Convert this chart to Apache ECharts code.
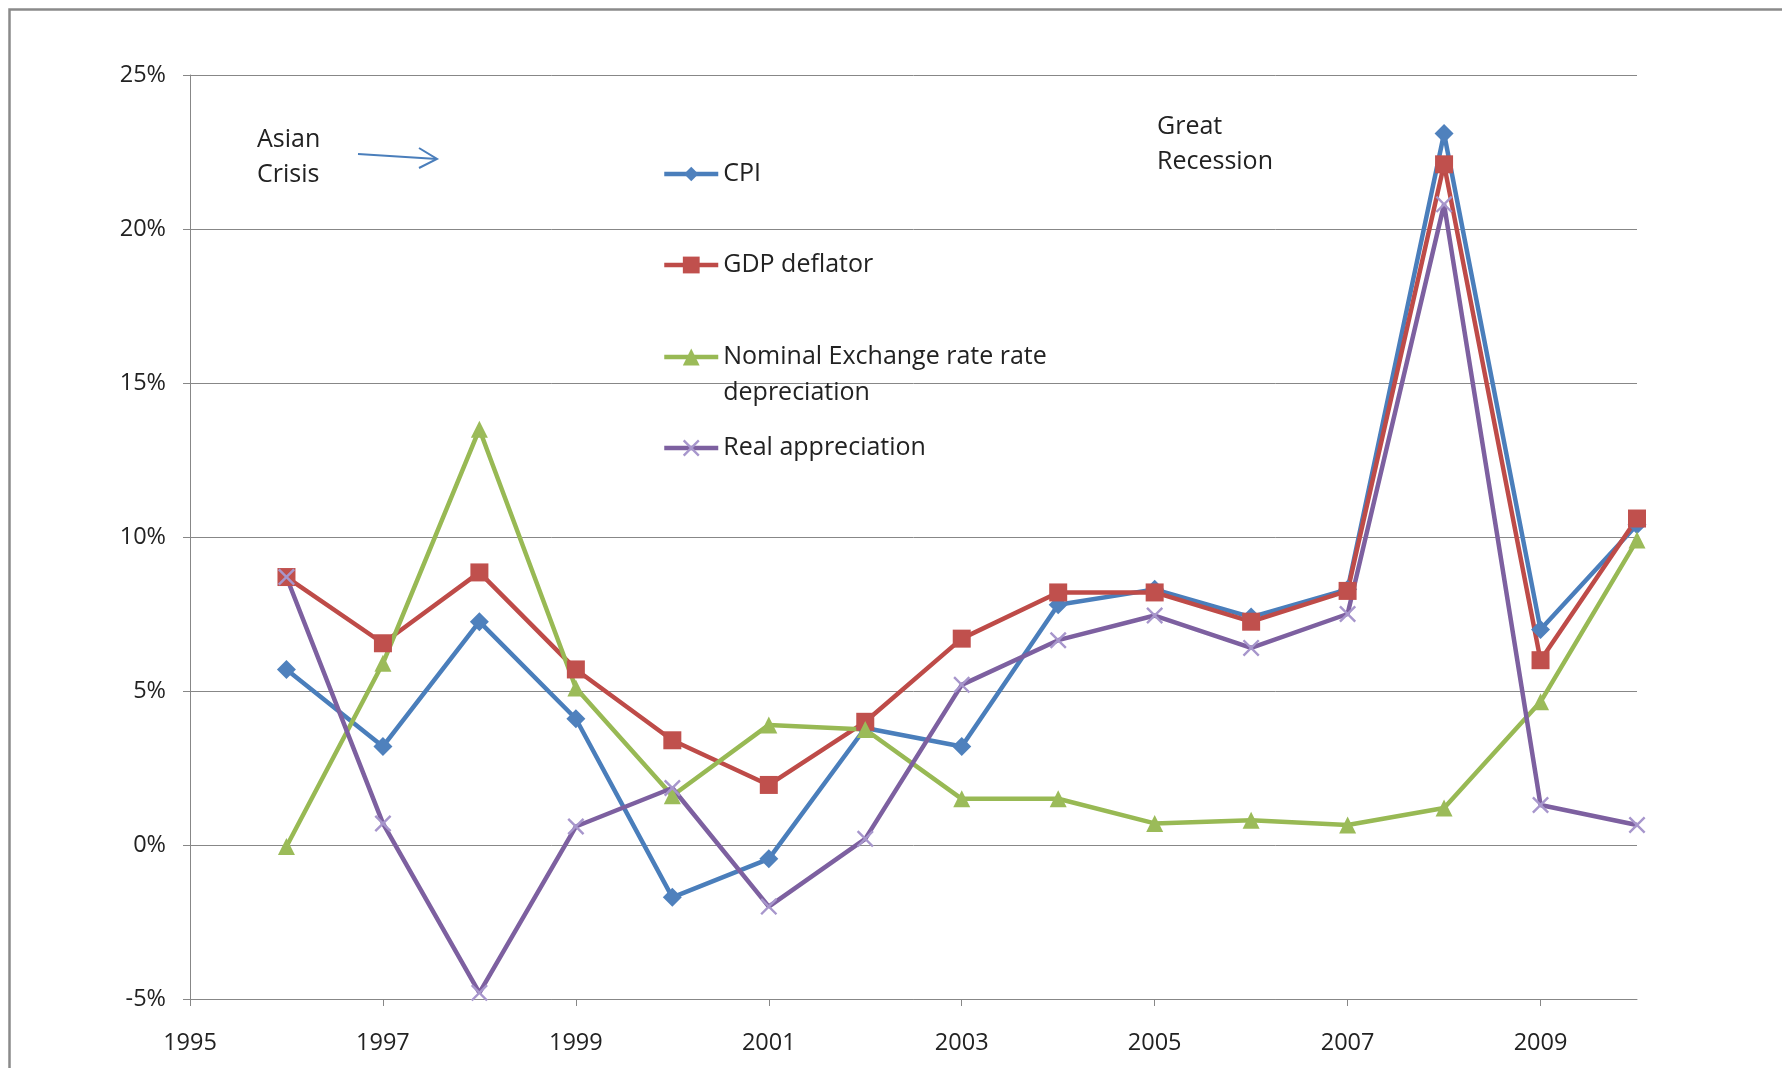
<!DOCTYPE html>
<html><head><meta charset="utf-8">
<script src="https://cdn.jsdelivr.net/npm/echarts@6/dist/echarts.min.js"></script>
<style>html,body{margin:0;padding:0;background:#fff}#c{width:1782px;height:1068px}</style>
</head><body><div id="c"></div>
<script>
const years = [1996,1997,1998,1999,2000,2001,2002,2003,2004,2005,2006,2007,2008,2009,2010];
const cpi = [5.7,3.2,7.25,4.1,-1.7,-0.45,3.8,3.2,7.8,8.3,7.4,8.3,23.1,7.0,10.4];
const gdpDeflator = [8.7,6.55,8.85,5.7,3.4,1.95,4.0,6.7,8.2,8.2,7.25,8.25,22.1,6.0,10.6];
const nominalDep = [-0.05,5.9,13.5,5.1,1.6,3.9,3.75,1.5,1.5,0.7,0.8,0.65,1.2,4.65,9.9];
const realApp = [8.7,0.7,-4.8,0.6,1.85,-2.0,0.2,5.2,6.65,7.45,6.4,7.5,20.8,1.3,0.65];
const xTickLabels = [1995,1997,1999,2001,2003,2005,2007,2009];
const yTickLabels = [-5,0,5,10,15,20,25];
const seriesNames = ['CPI','GDP deflator','Nominal Exchange rate rate depreciation','Real appreciation'];

const pairs = arr => years.map((y,i)=>[y,arr[i]]);
const FONT = 'Open Sans';
const TXT = '#222';
const GRID = '#878787';
const xPath = 'path://M0,1L1,0L10,9L9,10Z M9,0L10,1L1,10L0,9Z';

const chart = echarts.init(document.getElementById('c'), null, {renderer:'canvas'});
const legendBase = {orient:'vertical', left:662, padding:0, itemWidth:54,
  lineStyle:{width:4.5},
  textStyle:{fontFamily:FONT, fontSize:25, color:TXT, lineHeight:36}, itemGap:0};
chart.setOption({
  animation:false,
  backgroundColor:'#fff',
  textStyle:{fontFamily:FONT},
  grid:{left:190, right:145, top:75, bottom:69},
  xAxis:{type:'value', min:1995, max:2010, interval:2,
    axisLine:{onZero:false, lineStyle:{color:GRID, width:1}},
    axisTick:{show:true, length:7, lineStyle:{color:GRID}, customValues:xTickLabels},
    axisLabel:{fontFamily:FONT, fontSize:23.5, color:TXT, margin:32, customValues:xTickLabels, formatter:v=>String(v)},
    splitLine:{show:false}},
  yAxis:{type:'value', min:-5, max:25, interval:5,
    axisLine:{show:true, lineStyle:{color:GRID, width:1}},
    axisTick:{show:true, length:7, lineStyle:{color:GRID}, customValues:yTickLabels},
    axisLabel:{fontFamily:FONT, fontSize:23.5, color:TXT, margin:24, customValues:yTickLabels, formatter:'{value}%'},
    splitLine:{show:true, lineStyle:{color:GRID, width:1}}},
  legend:[
    Object.assign({}, legendBase, {data:[seriesNames[0]], top:156, itemHeight:18}),
    Object.assign({}, legendBase, {data:[seriesNames[1]], top:247, itemHeight:21}),
    Object.assign({}, legendBase, {data:[seriesNames[2]], top:303, itemHeight:21,
      formatter:n=>' \nNominal Exchange rate rate\ndepreciation'}),
    Object.assign({}, legendBase, {data:[seriesNames[3]], top:430, itemHeight:21})
  ],
  series:[
    {name:seriesNames[0], type:'line', data:pairs(cpi), symbol:'diamond', symbolSize:19,
      lineStyle:{color:'#4A7EBB', width:4.5}, itemStyle:{color:'#4F81BD'}},
    {name:seriesNames[1], type:'line', data:pairs(gdpDeflator), symbol:'rect', symbolSize:18,
      lineStyle:{color:'#BE4B48', width:4.5}, itemStyle:{color:'#C0504D'}},
    {name:seriesNames[2], type:'line', data:pairs(nominalDep), symbol:'triangle', symbolSize:17,
      lineStyle:{color:'#98B954', width:4.5}, itemStyle:{color:'#9BBB59'}},
    {name:seriesNames[3], type:'line', data:pairs(realApp), symbol:xPath, symbolSize:17,
      lineStyle:{color:'#7D60A0', width:4.5}, itemStyle:{color:'#A796CC'}}
  ],
  graphic:[
    {type:'rect', silent:true, shape:{x:9.5, y:9.5, width:1800, height:1100},
      style:{fill:'none', stroke:'#8a8a8a', lineWidth:2.5}},
    {type:'text', silent:true, left:257, top:122,
      style:{text:'Asian\nCrisis', font:'25px "Open Sans"', fill:TXT, lineHeight:35}},
    {type:'text', silent:true, left:1157, top:109,
      style:{text:'Great\nRecession', font:'25px "Open Sans"', fill:TXT, lineHeight:35}},
    {type:'polyline', silent:true, shape:{points:[[358,154],[437,159]]},
      style:{stroke:'#4A7EBB', lineWidth:2, fill:'none'}},
    {type:'polyline', silent:true, shape:{points:[[419,148],[437,159],[419,168]]},
      style:{stroke:'#4A7EBB', lineWidth:2, fill:'none'}}
  ]
});
</script></body></html>
